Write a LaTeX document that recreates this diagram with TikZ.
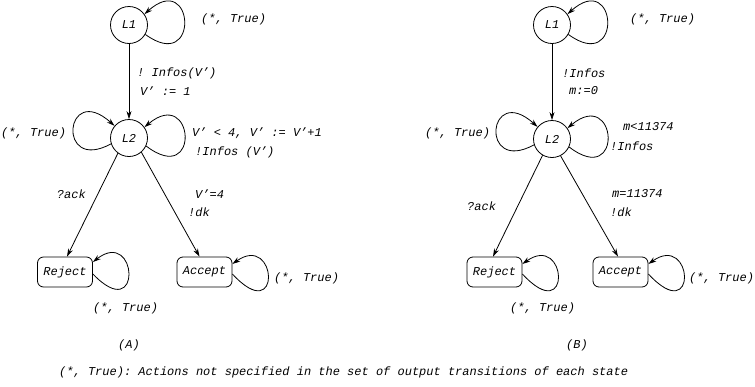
\documentclass[tikz,border=0pt]{standalone}
\usepackage{fontspec}
\setmonofont{Liberation Mono}
\usetikzlibrary{arrows.meta,calc}
\begin{document}
\begin{tikzpicture}[x=1pt,y=-1pt,
  txt/.style={font=\ttfamily\itshape\fontsize{12}{13}\selectfont, inner sep=0pt},
  lab/.style={txt, anchor=west},
  st/.style={txt, circle, draw, line width=0.8pt, minimum size=37pt, inner sep=0pt},
  box/.style={txt, draw, rounded corners=6pt, line width=0.8pt, minimum width=55pt, minimum height=30pt},
  arr/.style={line width=0.8pt, -{Stealth[length=8pt,width=5pt]}}
]
\useasboundingbox (0,0) rectangle (755,386);

% ---------------- (A) ----------------
\node[st] (L1a) at (129,25) {L1};
\node[st] (L2a) at (129,138) {L2};
\node[box] (Rja) at (65,272) {Reject};
\node[box] (Aca) at (204.5,272) {Accept};

\draw[arr] (L1a.-30) .. controls +(55,40) and +(50,-45) .. (L1a.35);
\draw[arr] (L1a) -- (L2a);
\draw[arr] (L2a.-25) .. controls +(55,42) and +(50,-42) .. (L2a.35);
\draw[arr] (L2a.198) .. controls +(-55,30) and +(-50,-45) .. (L2a.140);
\draw[arr] (L2a.234) -- ([xshift=2pt]Rja.north);
\draw[arr] (L2a.311) -- ([xshift=-5pt]Aca.north);
\draw[arr] ($(Rja.east)+(0,2)$) .. controls +(50,52) and +(45,-35) .. ($(Rja.east)+(0,-10)$);
\draw[arr] ($(Aca.east)+(0,2)$) .. controls +(50,54) and +(45,-32) .. ($(Aca.east)+(0,-8)$);

\node[lab] (ta1) at (201,19) {(*, True)};
\node[lab] (ta2) at (137,73) {! Infos(V’)};
\node[lab] (ta3) at (140,91) {V’ := 1};
\node[lab] (ta4) at (1,133) {(*, True)};
\node[lab] (ta5) at (192,133) {V’ < 4, V’ := V’+1};
\node[lab] (ta6) at (195,152) {!Infos (V’)};
\node[txt, anchor=east] (ta7) at (86,194) {?ack};
\node[lab] (ta8) at (195,194) {V’=4};
\node[lab] (ta9) at (188,212) {!dk};
\node[lab] (ta10) at (93,308) {(*, True)};
\node[lab] (ta11) at (274,278) {(*, True)};
\node[txt] (capA) at (129,345) {(A)};

% ---------------- (B) ----------------
\node[st] (L1b) at (552,25) {L1};
\node[st] (L2b) at (552,139) {L2};
\node[box] (Rjb) at (494.5,272) {Reject};
\node[box] (Acb) at (620.5,272) {Accept};

\draw[arr] (L1b.-30) .. controls +(55,40) and +(50,-45) .. (L1b.35);
\draw[arr] (L1b) -- (L2b);
\draw[arr] (L2b.-25) .. controls +(55,42) and +(50,-42) .. (L2b.35);
\draw[arr] (L2b.198) .. controls +(-55,30) and +(-50,-45) .. (L2b.140);
\draw[arr] (L2b.240) -- ([xshift=-1.5pt]Rjb.north);
\draw[arr] (L2b.297) -- ([xshift=-2.5pt]Acb.north);
\draw[arr] ($(Rjb.east)+(0,2)$) .. controls +(50,54) and +(45,-32) .. ($(Rjb.east)+(0,-8)$);
\draw[arr] ($(Acb.east)+(0,2)$) .. controls +(50,54) and +(45,-32) .. ($(Acb.east)+(0,-8)$);

\node[lab] (tb1) at (630,19) {(*, True)};
\node[lab] (tb2) at (562,73) {!Infos};
\node[lab] (tb3) at (569,91) {m:=0};
\node[lab] (tb4) at (425,133) {(*, True)};
\node[lab] (tb5) at (623,127) {m<11374};
\node[lab] (tb6) at (610,146) {!Infos};
\node[lab] (tb7) at (467,206) {?ack};
\node[lab] (tb8) at (612,194) {m=11374};
\node[lab] (tb9) at (610,212) {!dk};
\node[lab] (tb10) at (510,308) {(*, True)};
\node[lab] (tb11) at (689,278) {(*, True)};
\node[txt] (capB) at (577,345) {(B)};

\node[lab] (foot) at (59,372) {(*, True): Actions not specified in the set of output transitions of each state};
\end{tikzpicture}
\end{document}
